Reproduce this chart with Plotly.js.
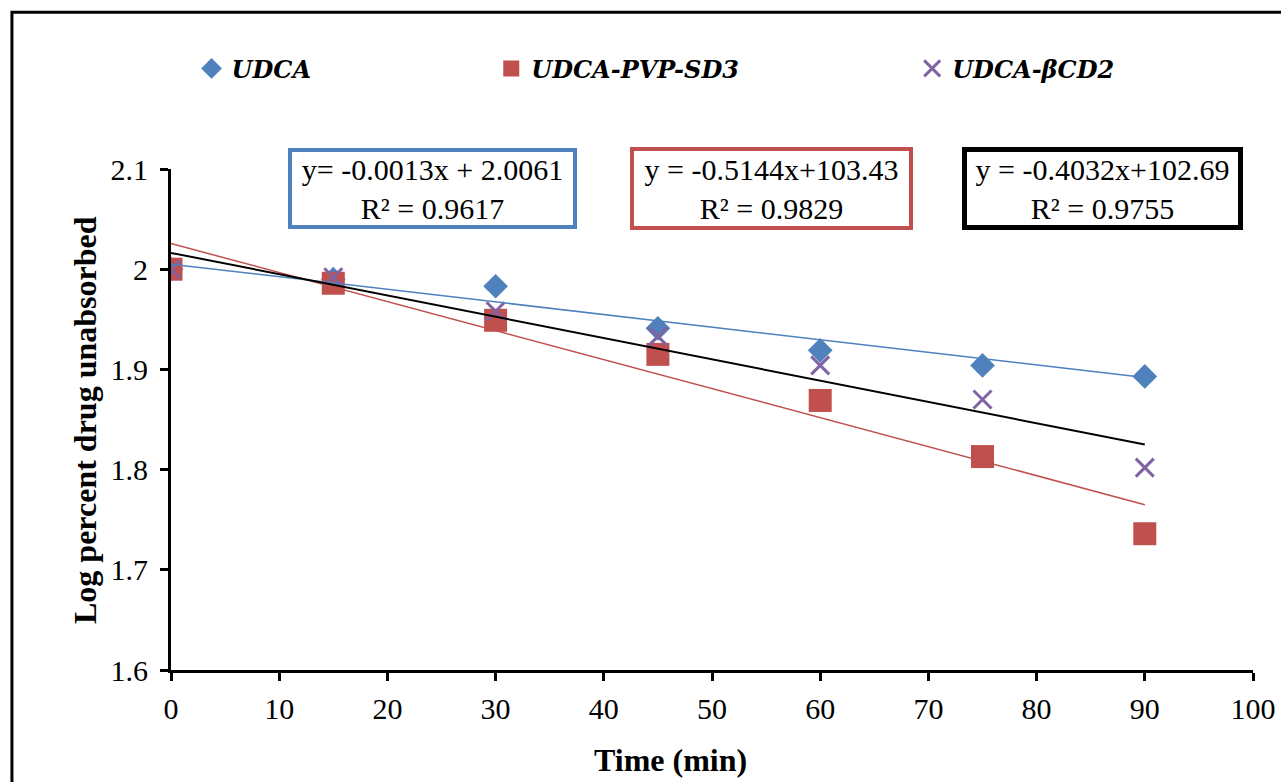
<!DOCTYPE html>
<html>
<head>
<meta charset="utf-8">
<script src="https://cdn.plot.ly/plotly-3.0.1.min.js"></script>
<style>
html,body{margin:0;padding:0;background:#fff;}
#chart{width:1281px;height:782px;}
</style>
</head>
<body>
<div id="chart"></div>
<script>
// Data
const timeMin = [0, 15, 30, 45, 60, 75, 90];
const udca = [2.0, 1.990, 1.983, 1.941, 1.919, 1.904, 1.893];
const udcaPvpSd3 = [2.0, 1.986, 1.949, 1.915, 1.869, 1.813, 1.736];
const udcaBcd2 = [2.0, 1.992, 1.958, 1.933, 1.904, 1.870, 1.802];
// Trend line end points
const trendX = [0, 90];
const trendUdca = [2.005, 1.892];
const trendPvp = [2.0256, 1.765];
const trendBcd = [2.0163, 1.825];
const seriesNames = ['UDCA', 'UDCA-PVP-SD3', 'UDCA-βCD2'];
const eqTexts = [
  'y= -0.0013x + 2.0061<br>R² = 0.9617',
  'y = -0.5144x+103.43<br>R² = 0.9829',
  'y = -0.4032x+102.69<br>R² = 0.9755'
];
const xTicks = [0,10,20,30,40,50,60,70,80,90,100];
const xTitle = 'Time (min)';
const yTitle = 'Log percent drug unabsorbed';

const serif = 'Liberation Serif';
const blue = '#4F81BD', red = '#C0504D', purple = '#8064A2';

const traces = [
  {x: timeMin, y: udca, mode: 'markers', type: 'scatter', name: seriesNames[0], legend: 'legend',
   marker: {symbol: 'diamond', size: 19, color: blue}},
  {x: timeMin, y: udcaPvpSd3, mode: 'markers', type: 'scatter', name: seriesNames[1], legend: 'legend2',
   marker: {symbol: 'square', size: 23, color: red}},
  {x: timeMin, y: udcaBcd2, mode: 'markers', type: 'scatter', name: seriesNames[2], legend: 'legend3',
   marker: {symbol: 'x-thin-open', size: 18, color: purple, line: {color: purple, width: 3}}},
  {x: trendX, y: trendUdca, mode: 'lines', type: 'scatter', showlegend: false, line: {color: blue, width: 1.5}},
  {x: trendX, y: trendPvp, mode: 'lines', type: 'scatter', showlegend: false, line: {color: red, width: 1.5}},
  {x: trendX, y: trendBcd, mode: 'lines', type: 'scatter', showlegend: false, line: {color: '#000', width: 2}}
];

const legFont = {family: 'DejaVu Serif', size: 24, color: '#000', weight: 'bold', style: 'italic'};
const legBase = {orientation: 'h', yanchor: 'middle', xanchor: 'left', y: 1.2, font: legFont,
  bgcolor: 'rgba(0,0,0,0)', itemclick: false};

function eqAnn(i, xc, color, bw, w, h) {
  return {xref: 'paper', yref: 'paper', x: xc, y: 0.962, xanchor: 'center', yanchor: 'middle',
    text: eqTexts[i], showarrow: false, align: 'center', font: {family: serif, size: 30, color: '#000'},
    bordercolor: color, borderwidth: bw, borderpad: 2, bgcolor: '#fff', width: w, height: h};
}

const layout = {
  width: 1281, height: 782,
  margin: {l: 171, r: 28, t: 169, b: 112},
  paper_bgcolor: '#fff', plot_bgcolor: '#fff',
  font: {family: serif, size: 30, color: '#000'},
  xaxis: {range: [0, 100], tickvals: xTicks, showgrid: false, zeroline: false,
    showline: true, linecolor: '#000', linewidth: 3, ticks: 'outside', ticklen: 8, tickwidth: 3, tickcolor: '#000',
    tickfont: {family: serif, size: 30}, automargin: false, ticklabelstandoff: 2},
  yaxis: {range: [1.6, 2.1], dtick: 0.1, tick0: 1.6, showgrid: false, zeroline: false,
    showline: true, linecolor: '#000', linewidth: 3, ticks: 'outside', ticklen: 8, tickwidth: 3, tickcolor: '#000',
    tickfont: {family: serif, size: 30}, automargin: false, ticklabelstandoff: 6},
  showlegend: true,
  legend: Object.assign({}, legBase, {x: 0.019}),
  legend2: Object.assign({}, legBase, {x: 0.296}),
  legend3: Object.assign({}, legBase, {x: 0.685}),
  annotations: [
    eqAnn(0, 0.2417, blue, 4, 277, 69),
    eqAnn(1, 0.555, red, 4, 271, 71),
    eqAnn(2, 0.861, '#000', 5, 267, 69),
    {xref: 'paper', yref: 'paper', x: 0.4612, y: -0.18, xanchor: 'center', yanchor: 'middle',
     text: '<b>' + xTitle + '</b>', showarrow: false, font: {family: serif, size: 32, color: '#000'}},
    {xref: 'paper', yref: 'paper', x: -0.0795, y: 0.499, xanchor: 'center', yanchor: 'middle', textangle: -90,
     text: '<b>' + yTitle + '</b>', showarrow: false, font: {family: serif, size: 32, color: '#000'}}
  ],
  shapes: [
    {type: 'rect', xref: 'paper', yref: 'paper', x0: -0.147, x1: 1.04, y0: -0.3, y1: 1.313,
     line: {color: '#000', width: 3}, fillcolor: 'rgba(0,0,0,0)', layer: 'below'}
  ]
};

Plotly.newPlot('chart', traces, layout, {displayModeBar: false, staticPlot: true});
</script>
</body>
</html>
